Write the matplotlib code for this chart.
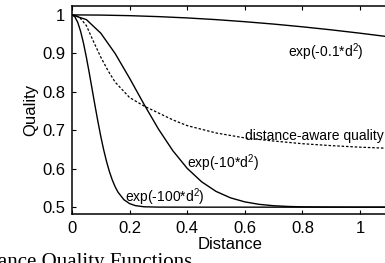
import matplotlib
matplotlib.use("Agg")
import matplotlib.pyplot as plt

plt.rcParams['font.family'] = ['Liberation Sans', 'DejaVu Sans']
plt.rcParams['mathtext.fontset'] = 'custom'
plt.rcParams['mathtext.rm'] = 'Liberation Sans'
plt.rcParams['mathtext.it'] = 'Liberation Sans'

# values
d_slow = [0, 0.1, 0.2, 0.3, 0.4, 0.5, 0.6, 0.7, 0.8, 0.9, 1.0, 1.1]
q_slow = [1.0, 0.9995, 0.998, 0.9955, 0.9921, 0.9877, 0.9823, 0.9761,
          0.969, 0.9611, 0.9524, 0.943]

d_mid = [0, 0.05, 0.1, 0.15, 0.2, 0.25, 0.3, 0.35, 0.4, 0.45, 0.5, 0.55,
         0.6, 0.65, 0.7, 0.75, 0.8, 0.9, 1.0, 1.1]
q_mid = [1.0, 0.9877, 0.9524, 0.8993, 0.8352, 0.7676, 0.7033, 0.6469,
         0.6009, 0.566, 0.541, 0.5243, 0.5137, 0.5073, 0.5037, 0.5018,
         0.5008, 0.5002, 0.5, 0.5]

d_fast = [0, 0.01, 0.02, 0.03, 0.04, 0.05, 0.06, 0.07, 0.08, 0.09, 0.1,
          0.11, 0.12, 0.13, 0.14, 0.15, 0.16, 0.18, 0.2, 0.22, 0.25, 0.3,
          0.4, 0.6, 0.8, 1.0, 1.1]
q_fast = [1.0, 0.995, 0.9804, 0.957, 0.9261, 0.8894, 0.8488, 0.8063,
          0.7636, 0.7225, 0.6839, 0.6491, 0.6185, 0.5923, 0.5704, 0.5527,
          0.5387, 0.5196, 0.5092, 0.504, 0.501, 0.5001, 0.5, 0.5, 0.5,
          0.5, 0.5]

d_aware = [0, 0.025, 0.05, 0.075, 0.1, 0.125, 0.15, 0.2, 0.25, 0.3, 0.35,
           0.4, 0.5, 0.6, 0.7, 0.8, 0.9, 1.0, 1.1]
q_aware = [1.0, 0.995, 0.972, 0.93, 0.89, 0.855, 0.825, 0.785, 0.763,
           0.745, 0.727, 0.712, 0.693, 0.68, 0.672, 0.665, 0.66, 0.656,
           0.653]

xticks = [0, 0.2, 0.4, 0.6, 0.8, 1.0]
xticklabels = ['0', '0.2', '0.4', '0.6', '0.8', '1']
yticks = [0.5, 0.6, 0.7, 0.8, 0.9, 1.0]
yticklabels = ['0.5', '0.6', '0.7', '0.8', '0.9', '1']

fig = plt.figure(figsize=(3.85, 2.63), dpi=100)
ax = fig.add_axes([0.187, 0.186, 0.823, 0.791])

ax.plot(d_slow, q_slow, color='black', lw=1.0)
ax.plot(d_mid, q_mid, color='black', lw=1.0)
ax.plot(d_fast, q_fast, color='black', lw=1.0)
ax.plot(d_aware, q_aware, color='black', lw=0.9, dashes=(2, 1.5))

ax.set_xlim(0, 1.1)
ax.set_ylim(0.482, 1.023)
ax.set_xticks(xticks)
ax.set_xticklabels(xticklabels)
ax.set_yticks(yticks)
ax.set_yticklabels(yticklabels)
ax.tick_params(direction='in', length=3.2, width=0.8, labelsize=12,
               top=True, right=True, pad=5)
for s in ax.spines.values():
    s.set_linewidth(1.1)

ax.set_xlabel('Distance', fontsize=12, labelpad=1)
ax.set_ylabel('Quality', fontsize=12, labelpad=3)

ax.text(0.75, 0.903, r'exp(-0.1*d$^2$)', fontsize=10, va='center')
ax.text(0.60, 0.685, 'distance-aware quality', fontsize=10, va='center')
ax.text(0.40, 0.614, r'exp(-10*d$^2$)', fontsize=10, va='center')
ax.text(0.184, 0.525, r'exp(-100*d$^2$)', fontsize=10, va='center')

fig.text(192 / 385, -0.015, 'Distance Quality Functions', ha='right',
         va='baseline', fontsize=15, family='Liberation Serif')

fig.savefig('out.png', dpi=100)
